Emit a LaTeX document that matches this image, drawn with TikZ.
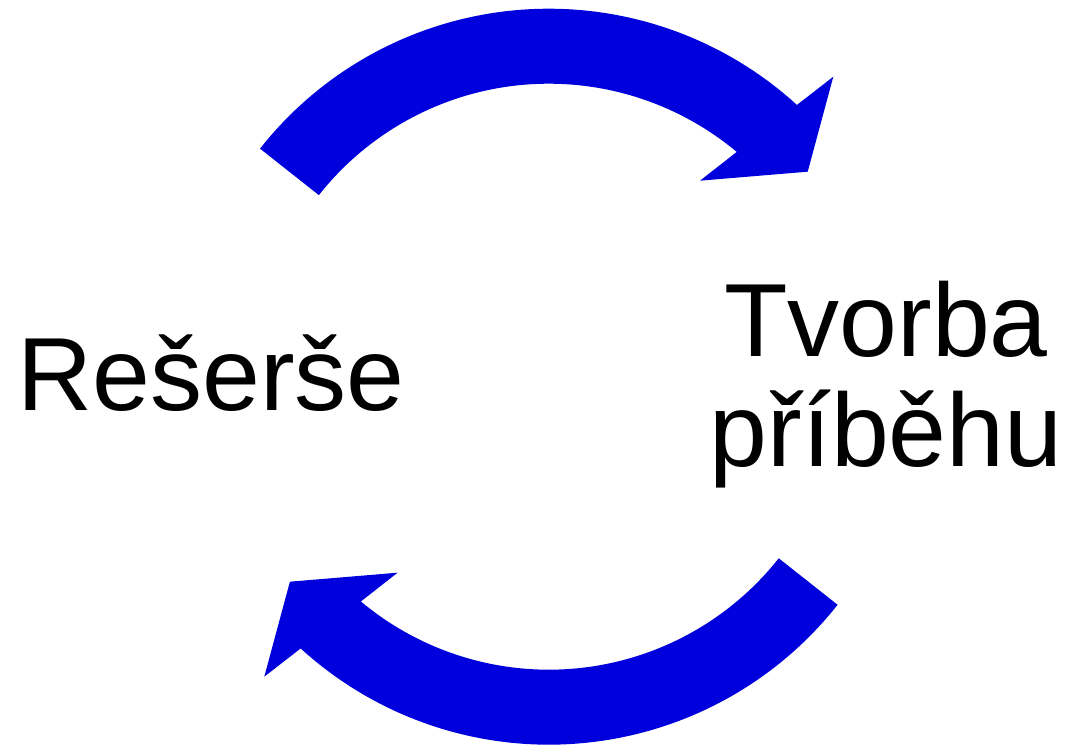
\documentclass[tikz,border=0pt]{standalone}
\usepackage{fontspec}
\setmainfont{Liberation Sans}
\definecolor{arrowblue}{RGB}{0,0,220}
\tikzset{
  lbl/.style={inner sep=0pt, font=\fontsize{104}{110}\selectfont, text=black},
  cyclearrow/.pic={
    \fill[arrowblue] (141.7:368) arc[start angle=141.7, end angle=47.6, radius=368]
      -- (284.5,300) -- (258.9,205) -- (151.2,196)
      -- (50.1:293) arc[start angle=50.1, end angle=141.7, radius=293] -- cycle;
  }
}
\begin{document}
\begin{tikzpicture}[x=1pt,y=1pt]
\useasboundingbox (0,0) rectangle (1081,746);
\coordinate (C) at (548.8,369.3);
\pic (top) at (C) {cyclearrow};
\pic[rotate=180] (bottom) at (C) {cyclearrow};
\node[lbl, anchor=base] (res) at (211,335) {Rešerše};
\node[lbl, anchor=base, align=center] (tvo) at (886,279.5) {Tvorba\\příběhu};
\end{tikzpicture}
\end{document}
